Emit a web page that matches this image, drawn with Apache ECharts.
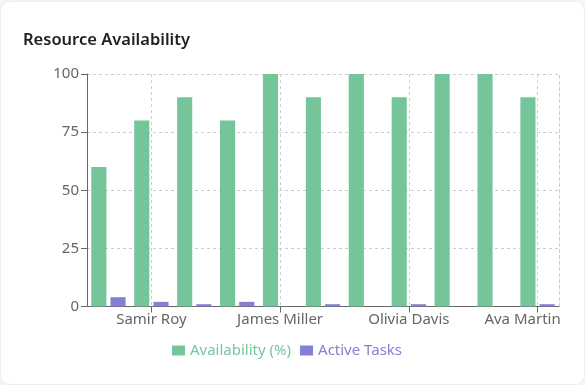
<!DOCTYPE html>
<html>
<head>
<meta charset="utf-8">
<script src="https://cdn.jsdelivr.net/npm/echarts@6/dist/echarts.min.js"></script>
<style>
  html, body { margin: 0; padding: 0; background: #f6f6f6; }
  #card { position: absolute; left: 1px; top: 2px; width: 583px; height: 382px; background: #fff; border-radius: 8px; box-shadow: 0 0 2px rgba(0,0,0,0.12); }
  #chart { position: absolute; left: 0; top: 0; width: 585px; height: 385px; }
</style>
</head>
<body>
<div id="card"></div>
<div id="chart"></div>
<script>
const categories = ["Priya Shah", "Samir Roy", "Elena Cruz", "Marcus Lee", "James Miller", "Nina Patel", "Lucas Brown", "Olivia Davis", "Ethan Clark", "Sofia Kim", "Ava Martin"];
const availability = [60, 80, 90, 80, 100, 90, 100, 90, 100, 100, 90];
const activeTasks = [4, 2, 1, 2, 0, 1, 0, 1, 0, 0, 1];
const yTicks = [0, 25, 50, 75, 100];

const GREEN = '#74c69a';
const PURPLE = '#8480d3';
const FONT = '"Noto Sans", "Open Sans", sans-serif';
const shown = (i) => i % 3 === 1;

const chart = echarts.init(document.getElementById('chart'), null, { renderer: 'canvas' });
chart.setOption({
  backgroundColor: 'transparent',
  animation: false,
  title: {
    text: 'Resource Availability',
    left: 18, top: 27,
    textStyle: { fontFamily: FONT, fontSize: 16.5, fontWeight: 600, color: '#1f1f1f' }
  },
  grid: { left: 87, right: 26, top: 74, bottom: 78.5, containLabel: false },
  legend: {
    bottom: 22, left: 167,
    itemWidth: 13, itemHeight: 10, itemGap: 9,
    icon: 'rect',
    textStyle: { fontFamily: FONT, fontSize: 15 },
    data: [
      { name: 'Availability (%)', textStyle: { color: GREEN } },
      { name: 'Active Tasks', textStyle: { color: PURPLE } }
    ]
  },
  xAxis: {
    type: 'category',
    data: categories,
    boundaryGap: true,
    axisLine: { lineStyle: { color: '#666', width: 1 } },
    axisTick: { show: true, alignWithLabel: true, length: 6, interval: (i) => shown(i), lineStyle: { color: '#666' } },
    axisLabel: {
      interval: (i) => shown(i),
      margin: 6,
      color: '#666', fontFamily: FONT, fontSize: 15,
      formatter: (v, i) => i === categories.length - 1 ? '{r|' + v + '}' : v,
      rich: { r: { color: '#666', fontFamily: FONT, fontSize: 15, padding: [0, 30, 0, 0] } }
    },
    splitLine: { show: true, alignWithLabel: true, interval: (i) => shown(i), lineStyle: { color: '#ccc', type: [3, 3] } }
  },
  yAxis: [{
    type: 'value',
    min: yTicks[0], max: yTicks[yTicks.length - 1], interval: 25,
    axisLine: { show: true, lineStyle: { color: '#666' } },
    axisTick: { show: true, length: 6, lineStyle: { color: '#666' } },
    axisLabel: { color: '#666', fontFamily: FONT, fontSize: 15, margin: 8 },
    splitLine: { show: true, lineStyle: { color: '#ccc', type: [3, 3] } }
  }, {
    type: 'value', position: 'right',
    min: yTicks[0], max: yTicks[yTicks.length - 1], interval: 25,
    axisLine: { show: true, lineStyle: { color: '#ccc', type: [3, 3] } },
    axisTick: { show: false }, axisLabel: { show: false }, splitLine: { show: false }
  }],
  series: [
    { name: 'Availability (%)', type: 'bar', data: availability, itemStyle: { color: GREEN }, barCategoryGap: '20%', barGap: '27%' },
    { name: 'Active Tasks', type: 'bar', data: activeTasks, itemStyle: { color: PURPLE } }
  ]
});
</script>
</body>
</html>
